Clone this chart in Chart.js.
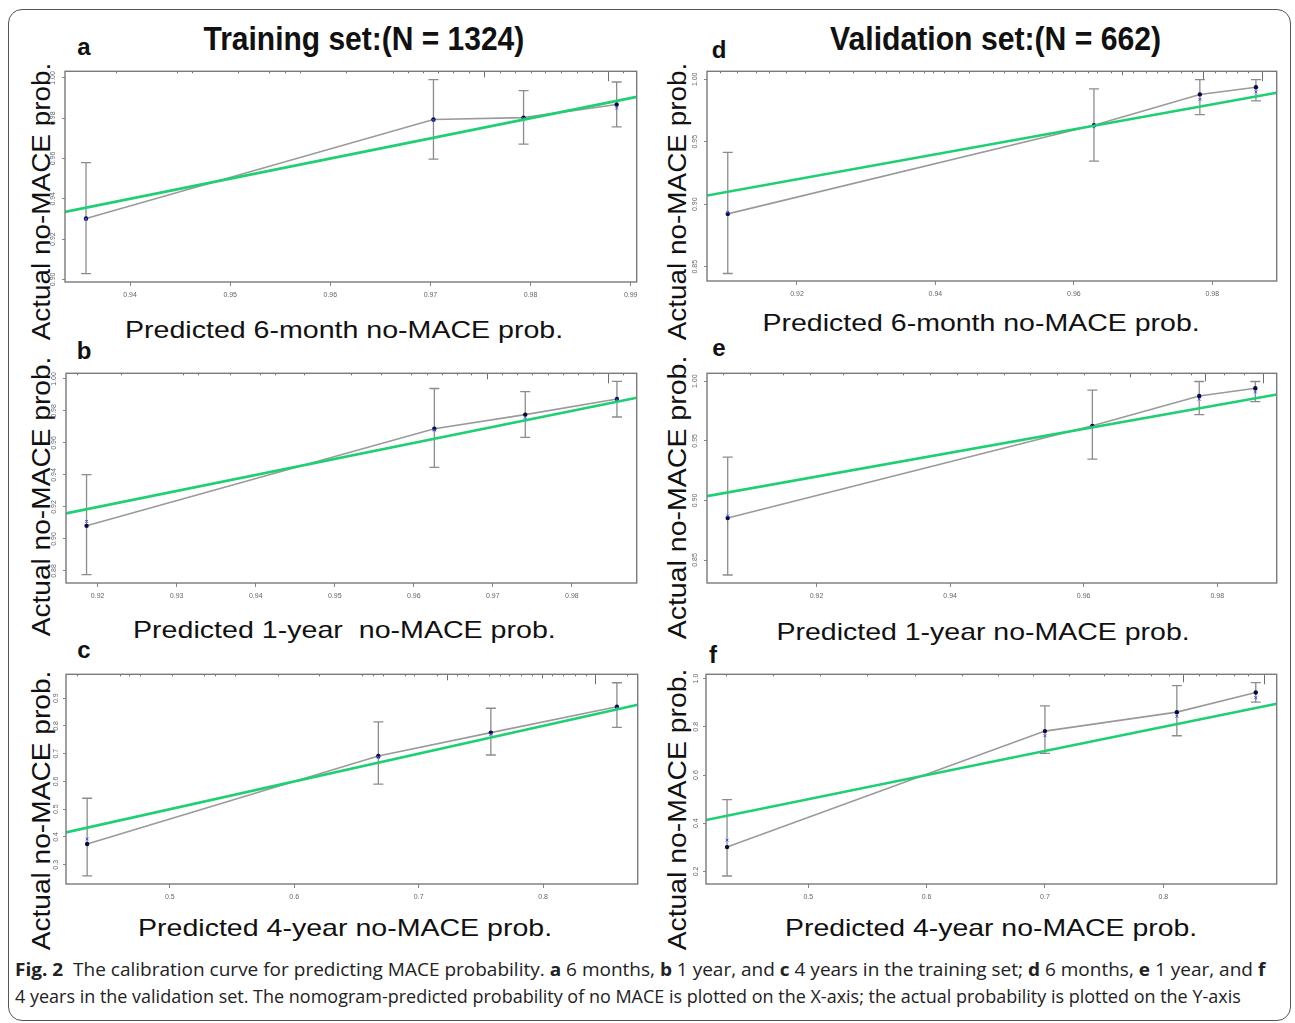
<!DOCTYPE html>
<html>
<head>
<meta charset="utf-8">
<script src="https://cdn.jsdelivr.net/npm/chart.js@4.4.1/dist/chart.umd.min.js"></script>
<style>
  body { margin:0; width:1295px; height:1023px; position:relative; overflow:hidden; background:#fff;
         font-family:"Liberation Sans", Arial, sans-serif; color:#111; }
  .frame { position:absolute; left:8px; top:9px; width:1281px; height:1010px; border:1.5px solid #555; border-radius:14px; }
  .hdr { position:absolute; font-weight:bold; font-size:34px; white-space:nowrap; }
  .pl  { position:absolute; font-weight:bold; font-size:24px; transform:translate(-50%,-50%); }
  .xt  { position:absolute; font-size:24px; white-space:nowrap; }
  .yt  { position:absolute; font-size:26px; white-space:nowrap; }
  .cv  { position:absolute; }
  .cap { position:absolute; left:15px; font-family:"Open Sans",sans-serif; font-size:18px; white-space:nowrap; color:#222; }
</style>
</head>
<body>
<div class="frame"></div>

<div class="hdr fit" data-cx="364" data-cy="38" data-w="321">Training set:(N = 1324)</div>
<div class="hdr fit" data-cx="995" data-cy="38" data-w="331">Validation set:(N = 662)</div>

<div class="pl" style="left:84px;top:47px">a</div>
<div class="pl" style="left:84px;top:351px">b</div>
<div class="pl" style="left:84px;top:650px">c</div>
<div class="pl" style="left:719px;top:50px">d</div>
<div class="pl" style="left:719px;top:348px">e</div>
<div class="pl" style="left:713px;top:655px">f</div>

<div class="yt fit" data-rot="1" data-cx="41"  data-cy="201" data-w="278">Actual no-MACE prob.</div>
<div class="yt fit" data-rot="1" data-cx="41"  data-cy="496" data-w="280">Actual no-MACE prob.</div>
<div class="yt fit" data-rot="1" data-cx="41"  data-cy="810" data-w="280">Actual no-MACE prob.</div>
<div class="yt fit" data-rot="1" data-cx="677" data-cy="201" data-w="278">Actual no-MACE prob.</div>
<div class="yt fit" data-rot="1" data-cx="677" data-cy="497" data-w="284">Actual no-MACE prob.</div>
<div class="yt fit" data-rot="1" data-cx="677" data-cy="809" data-w="282">Actual no-MACE prob.</div>

<div class="xt fit" data-cx="344" data-cy="330" data-w="438">Predicted 6-month no-MACE prob.</div>
<div class="xt fit" data-cx="344" data-cy="630" data-w="423">Predicted 1-year&nbsp; no-MACE prob.</div>
<div class="xt fit" data-cx="345" data-cy="928" data-w="414">Predicted 4-year no-MACE prob.</div>
<div class="xt fit" data-cx="981" data-cy="323" data-w="437">Predicted 6-month no-MACE prob.</div>
<div class="xt fit" data-cx="983" data-cy="632" data-w="413">Predicted 1-year no-MACE prob.</div>
<div class="xt fit" data-cx="991" data-cy="928" data-w="412">Predicted 4-year no-MACE prob.</div>

<div class="cv" id="wrap-a"><canvas id="chart-a"></canvas></div>
<div class="cv" id="wrap-b"><canvas id="chart-b"></canvas></div>
<div class="cv" id="wrap-c"><canvas id="chart-c"></canvas></div>
<div class="cv" id="wrap-d"><canvas id="chart-d"></canvas></div>
<div class="cv" id="wrap-e"><canvas id="chart-e"></canvas></div>
<div class="cv" id="wrap-f"><canvas id="chart-f"></canvas></div>

<div class="cap fit" data-left="1" data-cy="969" data-w="1250">
  <b>Fig. 2</b>&nbsp; The calibration curve for predicting MACE probability. <b>a</b> 6 months, <b>b</b> 1 year, and <b>c</b> 4 years in the training set; <b>d</b> 6 months, <b>e</b> 1 year, and <b>f</b>
</div>
<div class="cap fit" data-left="1" data-cy="996" data-w="1226">
  4 years in the validation set. The nomogram-predicted probability of no MACE is plotted on the X-axis; the actual probability is plotted on the Y-axis
</div>

<script>
// ── Data (perkiraan) ─────────────────────────────────────────
// a: training, 6 bulan
const predA = [0.9356, 0.9703, 0.9793, 0.9886];
const obsA  = [0.9302, 0.9794, 0.9803, 0.9868];
const loA   = [0.9029, 0.9597, 0.9671, 0.9757];
const hiA   = [0.9580, 0.9992, 0.9937, 0.9980];
const corA  = [0.9300, 0.9790, 0.9800, 0.9850];
const xRangeA = [0.9335, 0.9906];
const yRangeA = [0.8987, 1.0033];
const xTicksA = ['0.94', '0.95', '0.96', '0.97', '0.98', '0.99'];
const yTicksA = ['0.90', '0.92', '0.94', '0.96', '0.98', '1.00'];
const rugXA = [0.9386, 0.9447, 0.9462, 0.9508, 0.9539, 0.9555, 0.9570, 0.9616, 0.9663, 0.9678, 0.9693, 0.9708,
               0.9723, 0.9739, 0.9753, 0.9769, 0.9784, 0.9800, 0.9814, 0.9830, 0.9846, 0.9861, 0.9877, 0.9892];
const rugNA = [1, 1, 1, 1, 1, 1, 1, 1, 1, 1, 1, 1, 1, 1, 3, 1, 1, 1, 1, 1, 1, 1, 5, 1];

// b: training, 1 tahun
const predB = [0.9186, 0.9626, 0.9741, 0.9857];
const obsB  = [0.9082, 0.9689, 0.9777, 0.9874];
const loB   = [0.8777, 0.9447, 0.9635, 0.9762];
const hiB   = [0.9402, 0.9940, 0.9920, 0.9985];
const corB  = [0.9110, 0.9680, 0.9760, 0.9870];
const xRangeB = [0.9160, 0.9882];
const yRangeB = [0.8725, 1.0035];
const xTicksB = ['0.92', '0.93', '0.94', '0.95', '0.96', '0.97', '0.98'];
const yTicksB = ['0.88', '0.90', '0.92', '0.94', '0.96', '0.98', '1.00'];
const rugXB = [0.9174, 0.9230, 0.9308, 0.9327, 0.9367, 0.9405, 0.9424, 0.9461, 0.9520, 0.9558, 0.9596, 0.9617, 0.9636,
               0.9655, 0.9673, 0.9693, 0.9712, 0.9730, 0.9749, 0.9770, 0.9789, 0.9808, 0.9827, 0.9846, 0.9865];
const rugNB = [1, 1, 1, 1, 1, 1, 1, 1, 1, 1, 1, 1, 1, 1, 1, 3, 1, 1, 1, 1, 1, 1, 1, 5, 1];

// c: training, 4 tahun
const predC = [0.4336, 0.6676, 0.7580, 0.8593];
const obsC  = [0.3748, 0.6917, 0.7760, 0.8694];
const loC   = [0.2597, 0.5906, 0.6953, 0.7951];
const hiC   = [0.5395, 0.8144, 0.8637, 0.9556];
const corC  = [0.3930, 0.6870, 0.7700, 0.8650];
const xRangeC = [0.4166, 0.8760];
const yRangeC = [0.2307, 0.9860];
const xTicksC = ['0.5', '0.6', '0.7', '0.8'];
const yTicksC = ['0.3', '0.4', '0.5', '0.6', '0.7', '0.8', '0.9'];
const rugXC = [0.4253, 0.4597, 0.4672, 0.4762, 0.5016, 0.5272, 0.5362, 0.5526, 0.5871, 0.6200, 0.6545, 0.6635, 0.6710,
               0.6889, 0.6965, 0.7144, 0.7228, 0.7309, 0.7399, 0.7564, 0.7654, 0.7729, 0.7819, 0.7909, 0.7990, 0.8073,
               0.8163, 0.8253, 0.8343, 0.8418, 0.8673];
const rugNC = [1, 1, 1, 1, 1, 1, 1, 1, 1, 1, 1, 1, 1, 1, 1, 1, 3, 1, 1, 1, 1, 1, 1, 1, 2, 1, 1, 1, 1, 5, 1];

// d: validasi, 6 bulan
const predD = [0.9100, 0.9629, 0.9782, 0.9863];
const obsD  = [0.8923, 0.9633, 0.9879, 0.9936];
const loD   = [0.8446, 0.9346, 0.9718, 0.9827];
const hiD   = [0.9415, 0.9923, 0.9998, 0.9998];
const corD  = [0.8936, 0.9620, 0.9840, 0.9900];
const xRangeD = [0.9070, 0.9893];
const yRangeD = [0.8386, 1.0064];
const xTicksD = ['0.92', '0.94', '0.96', '0.98'];
const yTicksD = ['0.85', '0.90', '0.95', '1.00'];
const rugXD = [0.9089, 0.9114, 0.9141, 0.9160, 0.9184, 0.9211, 0.9246, 0.9281, 0.9313, 0.9329, 0.9348, 0.9367, 0.9383,
               0.9397, 0.9413, 0.9432, 0.9448, 0.9483, 0.9499, 0.9518, 0.9534, 0.9550, 0.9569, 0.9585, 0.9601, 0.9620,
               0.9634, 0.9653, 0.9669, 0.9685, 0.9704, 0.9720, 0.9736, 0.9755, 0.9771, 0.9787, 0.9804, 0.9820, 0.9836,
               0.9852, 0.9872];
const rugND = [1, 1, 1, 1, 1, 1, 1, 1, 1, 1, 1, 1, 1, 1, 1, 1, 1, 1, 1, 1, 1, 1, 1, 1, 1, 1,
               1, 1, 2, 1, 1, 1, 1, 1, 1, 4, 1, 1, 1, 1, 5];

// e: validasi, 1 tahun
const predE = [0.9067, 0.9613, 0.9773, 0.9857];
const obsE  = [0.8853, 0.9626, 0.9877, 0.9941];
const loE   = [0.8374, 0.9347, 0.9721, 0.9830];
const hiE   = [0.9363, 0.9925, 0.9998, 0.9998];
const corE  = [0.8870, 0.9620, 0.9850, 0.9910];
const xRangeE = [0.9036, 0.9889];
const yRangeE = [0.8307, 1.0067];
const xTicksE = ['0.92', '0.94', '0.96', '0.98'];
const yTicksE = ['0.85', '0.90', '0.95', '1.00'];
const rugXE = [0.9060, 0.9100, 0.9150, 0.9190, 0.9240, 0.9290, 0.9330, 0.9370, 0.9410, 0.9440, 0.9480, 0.9520,
               0.9560, 0.9600, 0.9640, 0.9670, 0.9700, 0.9730, 0.9760, 0.9781, 0.9810, 0.9840, 0.9869];
const rugNE = [1, 1, 1, 1, 1, 1, 1, 1, 1, 1, 1, 1, 1, 1, 1, 2, 1, 1, 1, 4, 1, 1, 5];

// f: validasi, 4 tahun
const predF = [0.4313, 0.7000, 0.8115, 0.8782];
const obsF  = [0.3009, 0.7822, 0.8608, 0.9423];
const loF   = [0.1810, 0.6898, 0.7628, 0.9020];
const hiF   = [0.4978, 0.8868, 0.9711, 0.9835];
const corF  = [0.3300, 0.7630, 0.8440, 0.9210];
const xRangeF = [0.4135, 0.8959];
const yRangeF = [0.1479, 1.0178];
const xTicksF = ['0.5', '0.6', '0.7', '0.8'];
const yTicksF = ['0.2', '0.4', '0.6', '0.8', '1.0'];
const rugXF = [0.4300, 0.4700, 0.5100, 0.5500, 0.5900, 0.6300, 0.6600, 0.6900, 0.7200, 0.7500, 0.7700, 0.7900,
               0.8050, 0.8163, 0.8300, 0.8450, 0.8600, 0.8720, 0.8852];
const rugNF = [1, 1, 1, 1, 1, 1, 1, 1, 1, 1, 1, 1, 1, 4, 1, 1, 1, 1, 5];

// ── Warna & tata letak ───────────────────────────────────────
const GREEN    = '#1fcf74';
const GREY     = '#9a9a9a';
const BAR_GREY = '#8c8c8c';
const NAVY     = '#0b0b3a';
const BLUE     = '#3a4cff';
const AXIS_W = 30, AXIS_H = 25, PAD_T = 6, PAD_R = 6;

// kotak area plot (piksel halaman): left, top, right, bottom
const panels = [
  { id:'a', box:[65, 71, 637, 282],   px:predA, obs:obsA, lo:loA, hi:hiA, cor:corA, xr:xRangeA, yr:yRangeA, xt:xTicksA, yt:yTicksA, rx:rugXA, rn:rugNA },
  { id:'b', box:[66, 373, 637, 583],  px:predB, obs:obsB, lo:loB, hi:hiB, cor:corB, xr:xRangeB, yr:yRangeB, xt:xTicksB, yt:yTicksB, rx:rugXB, rn:rugNB },
  { id:'c', box:[66, 674, 638, 884],  px:predC, obs:obsC, lo:loC, hi:hiC, cor:corC, xr:xRangeC, yr:yRangeC, xt:xTicksC, yt:yTicksC, rx:rugXC, rn:rugNC },
  { id:'d', box:[707, 71, 1277, 281],  px:predD, obs:obsD, lo:loD, hi:hiD, cor:corD, xr:xRangeD, yr:yRangeD, xt:xTicksD, yt:yTicksD, rx:rugXD, rn:rugND },
  { id:'e', box:[707, 373, 1277, 583], px:predE, obs:obsE, lo:loE, hi:hiE, cor:corE, xr:xRangeE, yr:yRangeE, xt:xTicksE, yt:yTicksE, rx:rugXE, rn:rugNE },
  { id:'f', box:[706, 674, 1277, 884], px:predF, obs:obsF, lo:loF, hi:hiF, cor:corF, xr:xRangeF, yr:yRangeF, xt:xTicksF, yt:yTicksF, rx:rugXF, rn:rugNF }
];

// Bingkai kotak plot (gaya R)
const framePlugin = {
  id: 'frame',
  afterDraw(chart) {
    const { ctx, chartArea: a } = chart;
    ctx.save();
    ctx.strokeStyle = '#7a7a7a';
    ctx.lineWidth = 1.4;
    ctx.strokeRect(a.left, a.top, a.right - a.left, a.bottom - a.top);
    ctx.restore();
  }
};

// Distribusi prediksi: garis kecil di sisi atas
const rugPlugin = {
  id: 'rug',
  afterDatasetsDraw(chart, args, opts) {
    const { ctx, chartArea: a, scales: { x } } = chart;
    ctx.save();
    ctx.strokeStyle = '#6f6f6f';
    ctx.lineWidth = 1;
    opts.values.forEach((v, i) => {
      const px = Math.round(x.getPixelForValue(v)) + 0.5;
      ctx.beginPath();
      ctx.moveTo(px, a.top);
      ctx.lineTo(px, a.top + 2 * opts.counts[i]);
      ctx.stroke();
    });
    ctx.restore();
  }
};

function axisOpts(range, labels, isY) {
  const o = {
    type: 'linear',
    min: range[0],
    max: range[1],
    afterBuildTicks: s => { s.ticks = labels.map(l => ({ value: parseFloat(l) })); },
    grid: { display: true, drawOnChartArea: false, drawTicks: true, tickLength: isY ? 3 : 4, color: '#888', lineWidth: 1 },
    border: { display: false },
    ticks: {
      autoSkip: false,
      font: { size: 7, family: 'Liberation Sans' },
      color: '#666',
      padding: isY ? 2 : 5,
      callback: (v, i) => labels[i]
    }
  };
  if (isY) {
    o.afterFit = s => { s.width = AXIS_W; };
    o.ticks.minRotation = 90;
    o.ticks.maxRotation = 90;
    o.ticks.crossAlign = 'center';
  } else {
    o.afterFit = s => { s.height = AXIS_H; };
    o.ticks.maxRotation = 0;
  }
  return o;
}

function errorBars(p) {
  return p.px.map((x, i) => ({
    data: [{ x, y: p.lo[i] }, { x, y: p.hi[i] }],
    showLine: true,
    borderColor: BAR_GREY,
    borderWidth: 1.3,
    pointStyle: 'line',
    pointRadius: 5,
    pointBorderWidth: 1.3,
    pointBorderColor: BAR_GREY,
    pointHoverRadius: 0
  }));
}

function drawPanel(p) {
  const [L, T, R, B] = p.box;
  const w = (R - L) + AXIS_W + PAD_R;
  const h = (B - T) + AXIS_H + PAD_T;
  const wrap = document.getElementById('wrap-' + p.id);
  wrap.style.left = (L - AXIS_W) + 'px';
  wrap.style.top  = (T - PAD_T) + 'px';
  const canvas = document.getElementById('chart-' + p.id);
  canvas.width = w;
  canvas.height = h;

  const datasets = [
    { // garis ideal
      data: [{ x: p.xr[0], y: p.xr[0] }, { x: p.xr[1], y: p.xr[1] }],
      showLine: true, borderColor: GREEN, borderWidth: 2.6, pointRadius: 0
    },
    { // nilai terkoreksi bias
      data: p.px.map((x, i) => ({ x, y: p.cor[i] })),
      showLine: false, pointStyle: 'crossRot', pointRadius: 2, pointBorderColor: BLUE, pointBorderWidth: 1
    },
    { // kurva kalibrasi
      data: p.px.map((x, i) => ({ x, y: p.obs[i] })),
      showLine: true, borderColor: GREY, borderWidth: 1.6,
      pointRadius: 2.2, pointBackgroundColor: NAVY, pointBorderColor: NAVY, pointBorderWidth: 0
    },
    ...errorBars(p)
  ];

  new Chart(canvas, {
    type: 'scatter',
    data: { datasets },
    options: {
      responsive: false,
      animation: false,
      devicePixelRatio: 1,
      layout: { padding: { top: PAD_T, right: PAD_R, left: 0, bottom: 0 } },
      plugins: {
        legend: { display: false },
        tooltip: { enabled: false },
        rug: { values: p.rx, counts: p.rn }
      },
      scales: {
        x: axisOpts(p.xr, p.xt, false),
        y: axisOpts(p.yr, p.yt, true)
      }
    },
    plugins: [rugPlugin, framePlugin]
  });
}

panels.forEach(drawPanel);

// Teks: rentangkan ke lebar aslinya lalu taruh di titik tengahnya
document.querySelectorAll('.fit').forEach(el => {
  const w = el.offsetWidth, h = el.offsetHeight;
  const k = (+el.dataset.w) / w;
  const cy = +el.dataset.cy;
  if (el.dataset.left) {
    el.style.top = (cy - h / 2) + 'px';
    el.style.transformOrigin = '0 50%';
    el.style.transform = 'scaleX(' + k + ')';
    return;
  }
  const cx = +el.dataset.cx;
  el.style.left = (cx - w / 2) + 'px';
  el.style.top  = (cy - h / 2) + 'px';
  el.style.transform = (el.dataset.rot ? 'rotate(-90deg) ' : '') + 'scaleX(' + k + ')';
});
</script>
</body>
</html>
